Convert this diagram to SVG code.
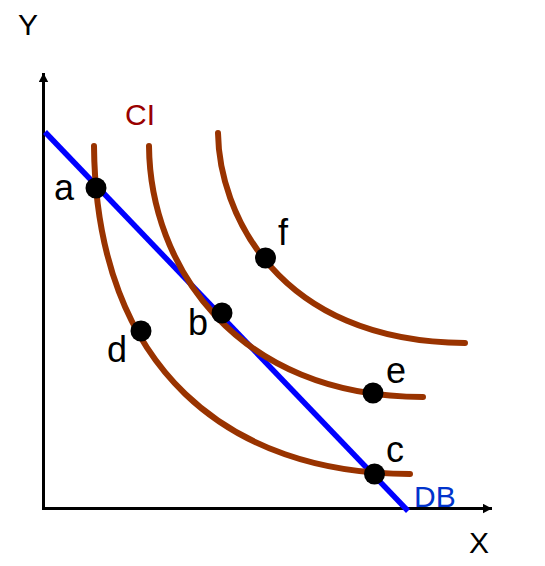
<svg xmlns="http://www.w3.org/2000/svg" width="545" height="566" viewBox="0 0 545 566">
<style>
.ax{stroke:#000;stroke-width:3;fill:none}
.ic{stroke:#993300;stroke-width:6;fill:none;stroke-linecap:round}
.db{stroke:#0000ff;stroke-width:5.5;fill:none}
.pt{fill:#000}
text{font-family:"Liberation Sans",Arial,sans-serif}
.lbl{font-size:36px;fill:#000;text-anchor:middle}
.axl{font-size:30px;fill:#000;text-anchor:middle}
</style>
<defs>
<marker id="arr" markerWidth="10" markerHeight="10" refX="9" refY="5" orient="auto" markerUnits="userSpaceOnUse">
<path d="M0,0.3 L9,5 L0,9.7 Z" fill="#000"/>
</marker>
</defs>
<rect width="545" height="566" fill="#fff"/>
<g id="connectors">
<line id="yaxis" class="ax" x1="43.5" y1="509" x2="43.5" y2="73" marker-end="url(#arr)"/>
<line id="xaxis" class="ax" x1="42" y1="508.5" x2="492" y2="508.5" marker-end="url(#arr)"/>
<line id="budget" class="db" x1="45" y1="132" x2="408" y2="511"/>
<path id="ci1" class="ic" d="M94,146 C96,370 230,474 410,474"/>
<path id="ci2" class="ic" d="M149,146 C150,265 235,397 423,397"/>
<path id="ci3" class="ic" d="M218,133 C219,210 275,342 465,343"/>
</g>
<g id="node-a"><circle class="pt" cx="96" cy="188" r="10.5"/><text class="lbl" x="64" y="200">a</text></g>
<g id="node-b"><circle class="pt" cx="222" cy="313" r="10.5"/><text class="lbl" x="198" y="335">b</text></g>
<g id="node-c"><circle class="pt" cx="374.5" cy="474" r="10.5"/><text class="lbl" x="395" y="462">c</text></g>
<g id="node-d"><circle class="pt" cx="141" cy="331" r="10.5"/><text class="lbl" x="117" y="362">d</text></g>
<g id="node-e"><circle class="pt" cx="373" cy="393" r="10.5"/><text class="lbl" x="396" y="383">e</text></g>
<g id="node-f"><circle class="pt" cx="265.5" cy="258" r="10.5"/><text class="lbl" x="283" y="245">f</text></g>
<g id="labels">
<text class="axl" x="28" y="35">Y</text>
<text class="axl" x="479" y="553">X</text>
<text x="125" y="125" font-size="30" fill="#990000">CI</text>
<text x="414" y="507" font-size="30" fill="#0033cc">DB</text>
</g>
</svg>
